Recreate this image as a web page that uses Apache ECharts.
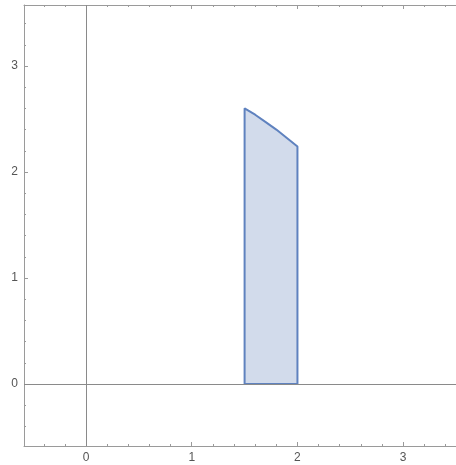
<!DOCTYPE html>
<html><head><meta charset="utf-8">
<script src="https://cdn.jsdelivr.net/npm/echarts@6/dist/echarts.min.js"></script>
<style>html,body{margin:0;padding:0;background:#fff}#c{width:456px;height:465px}</style>
</head><body><div id="c"></div>
<script>
// region boundary (x, y): bottom-left, top curve, bottom-right
var regionX = [1.5, 1.5, 1.6, 1.7, 1.8, 1.9, 2.0, 2.0, 1.5];
var regionY = [0, 2.60, 2.54, 2.47, 2.40, 2.32, 2.24, 0, 0];
var xLabels = [0, 1, 2, 3];
var yLabels = [0, 1, 2, 3];
var xMinor = [-0.4, -0.2, 0.2, 0.4, 0.6, 0.8, 1.2, 1.4, 1.6, 1.8, 2.2, 2.4, 2.6, 2.8, 3.2, 3.4];
var yMinor = [-0.4, -0.2, 0.2, 0.4, 0.6, 0.8, 1.2, 1.4, 1.6, 1.8, 2.2, 2.4, 2.6, 2.8, 3.2, 3.4];
var xRange = [-0.587, 3.5];
var yRange = [-0.585, 3.575];

var frameColor = '#9a9a9a';
var labelStyle = {color: '#555', fontSize: 12, fontFamily: 'Liberation Sans, Arial, sans-serif'};
function axis(pos, range, ticks, len, labels, line, show) {
  return {
    type: 'value', position: pos, min: range[0], max: range[1], show: show !== false,
    axisLine: {show: line, onZero: false, lineStyle: {color: frameColor, width: 1}},
    axisTick: {show: true, inside: true, length: len, customValues: ticks, lineStyle: {color: frameColor, width: 1}},
    axisLabel: labels ? Object.assign({show: true, customValues: labels, margin: 6}, labelStyle) : {show: false},
    splitLine: {show: false}
  };
}
var pts = regionX.map(function (x, i) { return [x, regionY[i]]; });
var chart = echarts.init(document.getElementById('c'), null, {renderer: 'canvas'});
chart.setOption({
  animation: false,
  grid: {left: 24, right: 0, top: 5, bottom: 19, containLabel: false},
  xAxis: [
    axis('bottom', xRange, xLabels, 4, xLabels, true),
    axis('bottom', xRange, xMinor, 2, null, false),
    axis('top', xRange, xLabels, 4, null, true),
    axis('top', xRange, xMinor, 2, null, false)
  ],
  yAxis: [
    axis('left', yRange, yLabels, 4, yLabels, true),
    axis('left', yRange, yMinor, 2, null, false),
    axis('right', yRange, yLabels, 4, null, false, false)
  ],
  series: [{
    type: 'line', xAxisIndex: 0, yAxisIndex: 0, data: pts, symbol: 'none', smooth: false,
    lineStyle: {color: '#5f82bf', width: 2},
    areaStyle: {color: '#d2dbeb', opacity: 1, origin: 0},
    markLine: {
      silent: true, symbol: 'none', label: {show: false},
      lineStyle: {color: '#8a8a8a', width: 1, type: 'solid'},
      data: [{xAxis: 0}, {yAxis: 0}]
    },
    z: 2
  }]
});
</script></body></html>
